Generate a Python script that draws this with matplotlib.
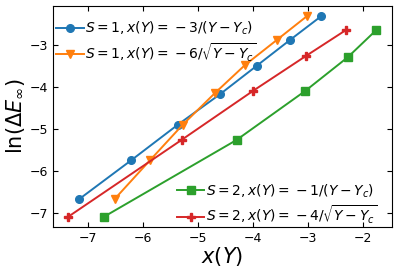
import numpy as np
import matplotlib
matplotlib.use("Agg")
import matplotlib.pyplot as plt

# S=1, x(Y) = -3/(Y-Yc)
x_s1_inv = [-7.16, -6.21, -5.37, -4.60, -3.93, -3.33, -2.77]
y_s1_inv = [-6.68, -5.75, -4.91, -4.18, -3.50, -2.89, -2.33]
# S=1, x(Y) = -6/sqrt(Y-Yc)
x_s1_sqrt = [-6.51, -5.87, -5.28, -4.69, -4.15, -3.57, -3.02]
y_s1_sqrt = [-6.67, -5.75, -4.91, -4.15, -3.49, -2.89, -2.32]
# S=2, x(Y) = -1/(Y-Yc)
x_s2_inv = [-6.71, -4.30, -3.05, -2.28, -1.76]
y_s2_inv = [-7.10, -5.27, -4.10, -3.30, -2.65]
# S=2, x(Y) = -4/sqrt(Y-Yc)
x_s2_sqrt = [-7.36, -5.30, -4.00, -3.04, -2.31]
y_s2_sqrt = [-7.10, -5.27, -4.10, -3.27, -2.65]

labels = [r"$S=1, x(Y)={}-3/(Y-Y_c)$",
          r"$S=1, x(Y)={}-6/\sqrt{Y-Y_c}$",
          r"$S=2, x(Y)={}-1/(Y-Y_c)$",
          r"$S=2, x(Y)={}-4/\sqrt{Y-Y_c}$"]

fig = plt.figure(figsize=(3.99, 2.74), dpi=100)
ax = fig.add_axes([0.132, 0.172, 0.850, 0.806])

l1, = ax.plot(x_s1_inv, y_s1_inv, "-o", color="tab:blue", ms=5.5, lw=1.4, label=labels[0])
l2, = ax.plot(x_s1_sqrt, y_s1_sqrt, "-v", color="tab:orange", ms=5.5, lw=1.4, label=labels[1])
l3, = ax.plot(x_s2_inv, y_s2_inv, "-s", color="tab:green", ms=5.5, lw=1.4, label=labels[2])
l4, = ax.plot(x_s2_sqrt, y_s2_sqrt, "-P", color="tab:red", ms=5.5, lw=1.4, label=labels[3])

ax.set_xlabel(r"$x(Y)$", fontsize=15, labelpad=0)
ax.set_ylabel(r"$\ln(\Delta E_\infty)$", fontsize=15, labelpad=2)
ax.tick_params(direction="in", top=True, right=True, labelsize=9)

leg1 = ax.legend(handles=[l1, l2], loc="upper left", bbox_to_anchor=(-0.015, 0.975),
                 frameon=False, fontsize=10, handletextpad=0.1,
                 borderaxespad=0.2, labelspacing=0.3)
ax.add_artist(leg1)
ax.legend(handles=[l3, l4], loc="lower right", bbox_to_anchor=(0.981, -0.036),
          frameon=False, fontsize=10, handletextpad=0.1,
          borderaxespad=0.2, labelspacing=0.3)

fig.savefig("out.png", dpi=100)
